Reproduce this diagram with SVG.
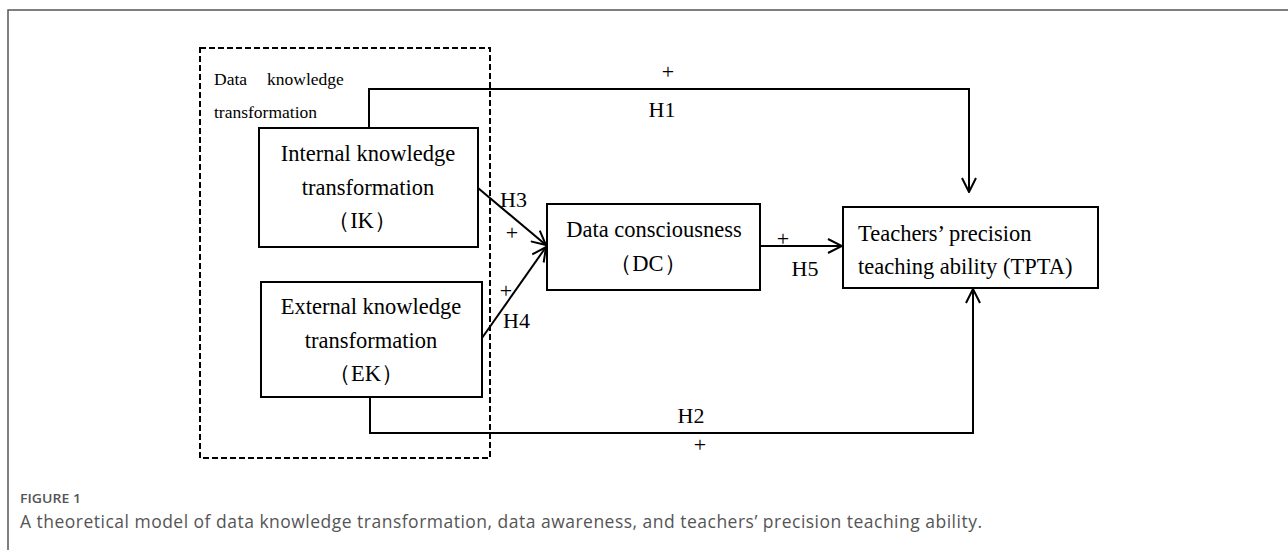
<svg xmlns="http://www.w3.org/2000/svg" width="1288" height="550" viewBox="0 0 1288 550">
<style>
.box{fill:#fff;stroke:#000;stroke-width:2}
.t{font-family:"Liberation Serif","Times New Roman",serif;font-size:22.5px;fill:#000}
.s{font-family:"Liberation Serif","Times New Roman",serif;font-size:17.5px;fill:#000}
.h{font-family:"Liberation Serif","Times New Roman",serif;font-size:22px;fill:#000}
.p{font-family:"Liberation Serif","Times New Roman",serif;font-size:22px;fill:#000}
.ln{fill:none;stroke:#000;stroke-width:2}
.cap{font-family:"Open Sans","Noto Sans",sans-serif;fill:#555}
</style>
<defs>
<marker id="arr" viewBox="0 0 16 16" refX="15" refY="8" markerWidth="16" markerHeight="16" markerUnits="userSpaceOnUse" orient="auto">
<path d="M1,1 L15,8 L1,15" fill="none" stroke="#000" stroke-width="2"/>
</marker>
</defs>
<rect width="1288" height="550" fill="#fff"/>
<path d="M8,550 V10 H1288" fill="none" stroke="#555" stroke-width="1.5"/>
<g id="group-dkt">
<rect x="200" y="48" width="290" height="410" fill="none" stroke="#000" stroke-width="2" stroke-dasharray="6,3"/>
<text class="s" x="214" y="85">Data</text>
<text class="s" x="267" y="85">knowledge</text>
<text class="s" x="214" y="118">transformation</text>
</g>
<g id="connectors">
<path class="ln" d="M369,128 V89 H969 V192" marker-end="url(#arr)"/>
<path class="ln" d="M370,397 V433 H973 V289" marker-end="url(#arr)"/>
<path class="ln" d="M478,188 L546,245" marker-end="url(#arr)"/>
<path class="ln" d="M482,338 L546,247" marker-end="url(#arr)"/>
<path class="ln" d="M760,246 H842" marker-end="url(#arr)"/>
<text class="p" x="668" y="79" text-anchor="middle">+</text>
<text class="h" x="662" y="117" text-anchor="middle">H1</text>
<text class="h" x="691" y="423" text-anchor="middle">H2</text>
<text class="p" x="700" y="452" text-anchor="middle">+</text>
<text class="h" x="500" y="207">H3</text>
<text class="p" x="512" y="240" text-anchor="middle">+</text>
<text class="p" x="506" y="298" text-anchor="middle">+</text>
<text class="h" x="503" y="328">H4</text>
<text class="p" x="783" y="246" text-anchor="middle">+</text>
<text class="h" x="805" y="276" text-anchor="middle">H5</text>
</g>
<g id="node-ik">
<rect class="box" x="259" y="128" width="219" height="119"/>
<text class="t" x="368" y="161" text-anchor="middle">Internal knowledge</text>
<text class="t" x="368" y="195" text-anchor="middle">transformation</text>
<text class="t" x="362" y="228" text-anchor="middle">（IK）</text>
</g>
<g id="node-ek">
<rect class="box" x="261" y="282" width="221" height="115"/>
<text class="t" x="371" y="314" text-anchor="middle">External knowledge</text>
<text class="t" x="371" y="348" text-anchor="middle">transformation</text>
<text class="t" x="366" y="381" text-anchor="middle">（EK）</text>
</g>
<g id="node-dc">
<rect class="box" x="547" y="204" width="213" height="86"/>
<text class="t" x="654" y="237" text-anchor="middle">Data consciousness</text>
<text class="t" x="648" y="271" text-anchor="middle">（DC）</text>
</g>
<g id="node-tpta">
<rect class="box" x="843" y="207" width="255" height="81"/>
<text class="t" x="858" y="241">Teachers’ precision</text>
<text class="t" x="858" y="274">teaching ability (TPTA)</text>
</g>
<g id="caption">
<text class="cap" x="20" y="503" font-size="13" font-weight="600" textLength="61" lengthAdjust="spacingAndGlyphs">FIGURE 1</text>
<text class="cap" x="20" y="528" font-size="17.5" textLength="962" lengthAdjust="spacing">A theoretical model of data knowledge transformation, data awareness, and teachers’ precision teaching ability.</text>
</g>
</svg>
